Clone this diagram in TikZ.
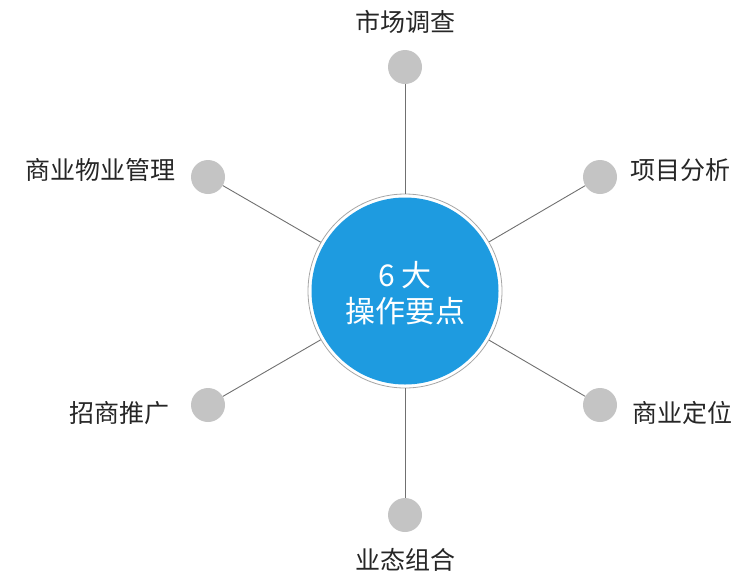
\documentclass[tikz,border=0pt]{standalone}
\usepackage{fontspec}
\newfontfamily\cjk{Noto Sans CJK SC}
\definecolor{cblue}{HTML}{1E9BE0}
\definecolor{dotgray}{HTML}{C4C4C4}
\definecolor{lgray}{HTML}{707070}
\tikzset{
 dot/.style={circle,fill=dotgray,minimum size=34pt,inner sep=0pt},
 lab/.style={font=\cjk\fontsize{25}{28}\selectfont,text=black!85,inner sep=0pt},
 conn/.style={draw=lgray,line width=0.9pt}
}
\begin{document}
\begin{tikzpicture}[x=1pt,y=-1pt]
\useasboundingbox (0,0) rectangle (746,582);
\node[dot] (t) at (405,67) {};
\node[dot] (ul) at (208,177) {};
\node[dot] (ur) at (600,177) {};
\node[dot] (ll) at (208,405) {};
\node[dot] (lr) at (600,405) {};
\node[dot] (b) at (405,515) {};
\node[circle,minimum size=194pt,inner sep=0pt,draw=gray!70,line width=0.8pt,fill=white] (c) at (405,291) {};
\node[circle,minimum size=187pt,inner sep=0pt,fill=cblue] (ci) at (405,291) {};
\foreach \n in {t,ul,ur,ll,lr,b} \draw[conn] (c) -- (\n);
\node[font=\cjk\fontsize{30}{36}\selectfont,text=white,align=center] (ct) at (405,293) {6 大\\操作要点};
\node[lab] (lt) at (405,22) {市场调查};
\node[lab,anchor=east] (lul) at (176,170) {商业物业管理};
\node[lab,anchor=west] (lur) at (630,170) {项目分析};
\node[lab,anchor=east] (lll) at (170,413) {招商推广};
\node[lab,anchor=west] (llr) at (632,413) {商业定位};
\node[lab] (lb) at (405,560) {业态组合};
\end{tikzpicture}
\end{document}
